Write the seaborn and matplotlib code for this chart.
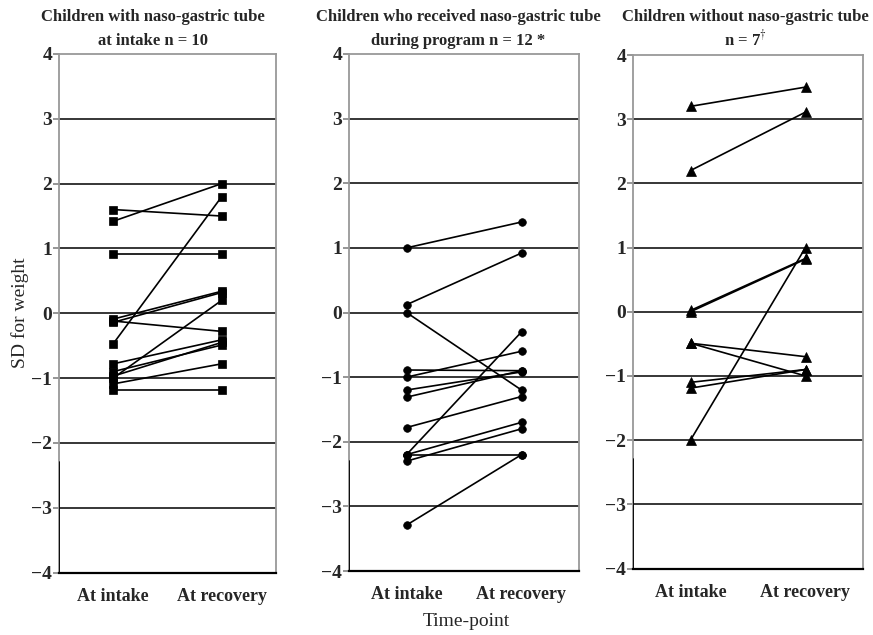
import numpy as np
import pandas as pd
import matplotlib
matplotlib.use("Agg")
import matplotlib.pyplot as plt
import seaborn as sns

# 데이터
time_points = ["At intake", "At recovery"]

tube_intake_start = [1.6, 1.42, 0.91, -0.47, -0.09, -0.14, -0.12, -0.78, -0.9, -0.97, -1.0, -1.09, -1.19]
tube_intake_end = [1.5, 2.0, 0.91, 1.8, 0.34, 0.32, -0.28, -0.41, -0.49, -0.45, 0.2, -0.78, -1.19]

tube_program_start = [1.0, 0.12, 0.0, -0.89, -1.0, -1.2, -1.31, -1.78, -2.2, -2.2, -2.3, -2.2, -3.29]
tube_program_end = [1.4, 0.92, -1.2, -0.9, -0.6, -0.92, -0.9, -1.3, -0.3, -1.7, -1.8, -2.2, -2.2]

no_tube_start = [3.2, 2.2, 0.02, 0.0, -0.49, -0.49, -1.1, -1.19, -2.0]
no_tube_end = [3.5, 3.11, 0.83, 0.82, -0.7, -1.0, -0.9, -0.9, 1.0]

title_line1 = ["Children with naso-gastric tube",
               "Children who received naso-gastric tube",
               "Children without naso-gastric tube"]
title_line2 = ["at intake n = 10", "during program n = 12 *", "n = 7$^{\\dagger}$"]
yticks = [-4, -3, -2, -1, 0, 1, 2, 3, 4]

sns.set_theme(style="white")
plt.rcParams['font.family'] = ['Liberation Serif', 'DejaVu Serif']
plt.rcParams['mathtext.fontset'] = 'stix'
plt.rcParams['axes.unicode_minus'] = True

W, H = 873, 635
fig = plt.figure(figsize=(W / 100, H / 100), dpi=100)

# 패널 위치 (픽셀)
boxes = [(59, 276, 54, 572.5), (349, 579, 54, 571), (633, 863, 55, 568.5)]
title_x = [153, 458, 745]
markers = ["s", "o", "^"]
msizes = [5.5, 5.5, 6.5]
panels = [(tube_intake_start, tube_intake_end),
          (tube_program_start, tube_program_end),
          (no_tube_start, no_tube_end)]

for i, (start, end) in enumerate(panels):
    l, r, t, b = boxes[i]
    ax = fig.add_axes([l / W, 1 - b / H, (r - l) / W, (b - t) / H])
    rows = []
    for k in range(len(start)):
        rows.append({"child": k, "time": time_points[0], "sd": start[k]})
        rows.append({"child": k, "time": time_points[1], "sd": end[k]})
    df = pd.DataFrame(rows)
    # 가로 격자선
    for yv in yticks[1:-1]:
        ax.axhline(yv, color="black", lw=1.1, zorder=1)
    sns.lineplot(data=df, x="time", y="sd", units="child", estimator=None,
                 color="black", lw=1.2, marker=markers[i], markersize=msizes[i],
                 markeredgecolor="black", markeredgewidth=0.5, ax=ax, zorder=3)
    ax.set_xlim(-0.5, 1.5)
    ax.set_ylim(-4, 4)
    ax.set_yticks(yticks)
    ax.set_yticklabels([str(v).replace("-", "\u2212") for v in yticks],
                       fontsize=14, fontweight="bold")
    ax.set_xticks([0, 1])
    ax.set_xticklabels(time_points, fontsize=13, fontweight="bold")
    ax.tick_params(axis="x", length=0, pad=11)
    ax.tick_params(axis="y", length=4, color="#888888", pad=1, left=True)
    ax.set_xlabel("")
    ax.set_ylabel("")
    for side in ["top", "left", "right"]:
        ax.spines[side].set_color("#999999")
        ax.spines[side].set_linewidth(1.3)
    ax.spines["bottom"].set_color("black")
    ax.spines["bottom"].set_linewidth(1.6)
    ax.axvline(-0.5, ymin=0, ymax=(4 - 2.3) / 8, color="black", lw=1.3, zorder=4)
    fig.text(title_x[i] / W, 1 - 21 / H, title_line1[i], ha="center", va="baseline",
             fontsize=12, fontweight="bold")
    fig.text(title_x[i] / W, 1 - 45 / H, title_line2[i], ha="center", va="baseline",
             fontsize=12, fontweight="bold")

fig.text(20 / W, 1 - 313 / H, "SD for weight", rotation=90, ha="center", va="center", fontsize=14)
fig.text(466 / W, 1 - 622 / H, "Time-point", ha="center", va="center", fontsize=14)

fig.savefig("out.png", dpi=100)
